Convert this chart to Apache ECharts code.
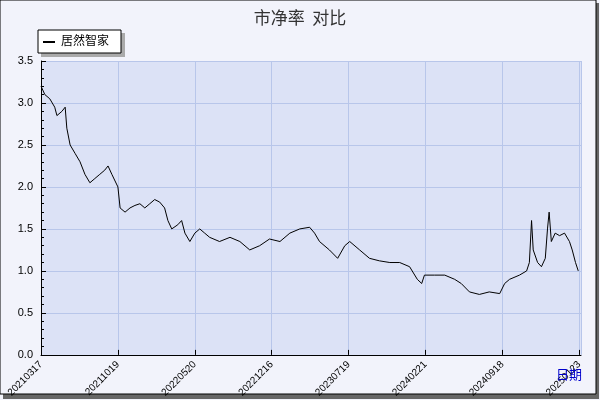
<!DOCTYPE html><html><head><meta charset="utf-8"><script src="https://cdn.jsdelivr.net/npm/echarts@6/dist/echarts.min.js"></script>
<style>body{margin:0;background:#fff}#c{width:600px;height:400px}</style></head><body><div id="c"></div><script>
const xIdx=[0,7,16,25,29,38,44,47,53,62,71,80,89,98,107,116,122,129,140,144,153,162,171,180,189,198,207,216,225,231,238,249,256,262,271,280,289,298,307,325,344,362,380,398,416,435,453,471,489,498,507,525,540,553,562,580,598,616,635,653,671,685,693,698,716,735,753,765,780,798,816,835,844,853,871,884,889,893,896,904,911,918,922,925,929,936,944,953,962,967,973,978];
const vals=[3.2,3.1,3.05,2.95,2.85,2.9,2.95,2.7,2.5,2.4,2.3,2.15,2.05,2.1,2.15,2.2,2.25,2.15,2.0,1.75,1.7,1.75,1.78,1.8,1.75,1.8,1.85,1.82,1.75,1.6,1.5,1.55,1.6,1.45,1.35,1.45,1.5,1.45,1.4,1.35,1.4,1.35,1.25,1.3,1.38,1.35,1.45,1.5,1.52,1.45,1.35,1.25,1.15,1.3,1.35,1.25,1.15,1.12,1.1,1.1,1.05,0.9,0.85,0.95,0.95,0.95,0.9,0.85,0.75,0.72,0.75,0.73,0.85,0.9,0.95,1.0,1.1,1.6,1.25,1.1,1.05,1.15,1.5,1.7,1.35,1.45,1.42,1.45,1.35,1.25,1.1,1.0];
const tickLabels=['20210317','20211019','20220520','20221216','20230719','20240221','20240918','20250123'];
const c=echarts.init(document.getElementById('c'));
c.setOption({backgroundColor:'#f2f3fb',animation:false,
graphic:[{type:'rect',shape:{x:3,y:3,width:596,height:396},style:{fill:'#666'},z:-10},
{type:'rect',shape:{x:0,y:0,width:596,height:394},style:{fill:'#f2f3fb',stroke:'#000',lineWidth:1},z:-9},
{type:'rect',shape:{x:41,y:33,width:84,height:24},style:{fill:'#aaa'},z:5},
{type:'rect',shape:{x:38,y:30,width:83,height:23},style:{fill:'#fff',stroke:'#000',lineWidth:1},z:6},
{type:'line',shape:{x1:43,y1:42,x2:55,y2:42},style:{stroke:'#000',lineWidth:2},z:7},
{type:'text',left:61,top:34,style:{text:'居然智家',font:'12px "Noto Sans CJK SC"',fill:'#000'},z:7},
{type:'text',left:556,top:368,style:{text:'日期',font:'13px "Noto Sans CJK SC"',fill:'#0000cc'},z:7}],
title:{text:'市净率  对比',left:'center',top:4,textStyle:{fontSize:17,fontWeight:'normal',color:'#333',fontFamily:'Noto Sans CJK SC'}},
grid:{left:41,right:19,top:61,bottom:43,show:true,backgroundColor:'#dce2f6',borderWidth:0,containLabel:false},
xAxis:{type:'value',min:0,max:983,interval:140,axisLine:{lineStyle:{color:'#000'}},axisTick:{show:true,length:-5,lineStyle:{color:'#000'}},
splitLine:{lineStyle:{color:'#b8c6ea'}},axisLabel:{rotate:45,fontSize:10,color:'#000',formatter:(v)=>tickLabels[Math.round(v/140)]||''}},
yAxis:{type:'value',min:0,max:3.5,interval:0.5,axisLine:{show:true,lineStyle:{color:'#000'}},axisTick:{show:true,length:-5,lineStyle:{color:'#000'}},
minorTick:{show:true,splitNumber:5,length:-3,lineStyle:{color:'#000'}},splitLine:{lineStyle:{color:'#b8c6ea'}},axisLabel:{fontSize:11,color:'#000',formatter:v=>v.toFixed(1)}},
series:[{type:'line',data:xIdx.map((x,i)=>[x,vals[i]]),symbol:'none',lineStyle:{color:'#000',width:1}}]});
</script></body></html>
